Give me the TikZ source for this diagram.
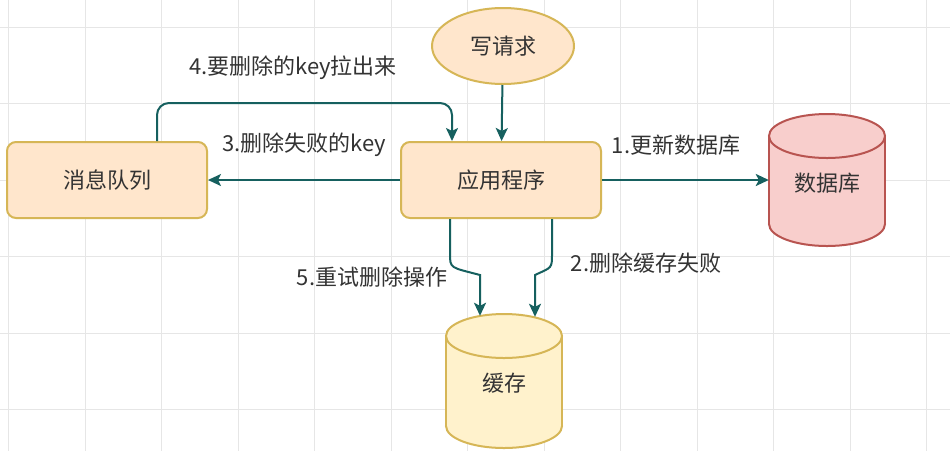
\documentclass[tikz,border=0pt]{standalone}
\usepackage{fontspec}
\setmainfont{Noto Sans CJK SC}
\usetikzlibrary{arrows.meta,calc,shapes.geometric}
\definecolor{arrowc}{HTML}{16605F}
\definecolor{txt}{HTML}{333333}
\definecolor{boxfill}{HTML}{FFE6CC}
\definecolor{boxline}{HTML}{D6B656}
\definecolor{cachefill}{HTML}{FFF2CC}
\definecolor{dbfill}{HTML}{F8CECC}
\definecolor{dbline}{HTML}{B85450}
\definecolor{gridc}{HTML}{E6E6E6}
\tikzset{
  base/.style={font=\fontsize{22}{26}\selectfont, text=txt},
  procbox/.style={base, draw=boxline, fill=boxfill, line width=2pt, rounded corners=9pt, minimum width=200pt, minimum height=76pt, inner sep=0pt},
  ovalnode/.style={base, ellipse, draw=boxline, fill=boxfill, line width=2pt, minimum width=142pt, minimum height=76pt, inner sep=0pt},
  lbl/.style={base, inner sep=0pt},
  arr/.style={draw=arrowc, line width=2pt, -{Stealth[length=13pt,width=12pt,inset=3pt]}},
}
\begin{document}
\begin{tikzpicture}[x=1pt,y=-1pt]
\useasboundingbox (0,0) rectangle (950,451);
\fill[white] (0,0) rectangle (950,451);
% grid
\foreach \gx in {8.5,85,161.5,238,314.5,391,467.5,544,620.5,697,773.5,850,926.5}
  \draw[gridc, line width=1pt] (\gx,0) -- (\gx,451);
\foreach \gy in {27,103.5,180,256.5,333,409.5}
  \draw[gridc, line width=1pt] (0,\gy) -- (950,\gy);

% nodes
\node[ovalnode] (req) at (503,46) {写请求};
\node[procbox] (app) at (501,180) {应用程序};
\node[procbox] (mq) at (107,180) {消息队列};

% database cylinder
\node[inner sep=0pt, minimum width=116pt, minimum height=132pt] (db) at (827,180) {};
\fill[dbfill, draw=dbline, line width=2pt] (827,224) ellipse [x radius=58, y radius=22];
\fill[dbfill] (769,136) rectangle (885,224);
\draw[dbline, line width=2pt] (769,136) -- (769,224) (885,136) -- (885,224);
\fill[dbfill, draw=dbline, line width=2pt] (827,136) ellipse [x radius=58, y radius=22];
\node[base] at (827,183) {数据库};

% cache cylinder
\node[inner sep=0pt, minimum width=116pt, minimum height=134pt] (cache) at (504,381) {};
\fill[cachefill, draw=boxline, line width=2pt] (504,426) ellipse [x radius=58, y radius=22];
\fill[cachefill] (446,336) rectangle (562,426);
\draw[boxline, line width=2pt] (446,336) -- (446,426) (562,336) -- (562,426);
\fill[cachefill, draw=boxline, line width=2pt] (504,336) ellipse [x radius=58, y radius=22];
\node[base] at (504,383) {缓存};

% connectors
\draw[arr] (req) -- (app);
\draw[arr] (app) -- (db.west);
\draw[arr] (app) -- (mq);
\coordinate (c4) at (300,103);
\draw[arr, rounded corners=12pt] ([xshift=50pt]mq.north) |- (c4) -| ([xshift=-49pt]app.north);
\draw[arr] ([xshift=-51pt]app.south) -- ++(0,34) .. controls ++(0,16) and ++(-30,-8) .. ++(30,22) -- ([xshift=-24pt,yshift=-2pt]cache.north);
\draw[arr] ([xshift=51pt]app.south) -- ++(0,34) .. controls ++(0,16) and ++(17,-8) .. ++(-17,22) -- ([xshift=31pt,yshift=-3pt]cache.north);

% labels
\node[lbl] (l4) at (293,68) {4.要删除的key拉出来};
\node[lbl] (l3) at (304,145) {3.删除失败的key};
\node[lbl] (l1) at (676,145) {1.更新数据库};
\node[lbl] (l2) at (646,263) {2.删除缓存失败};
\node[lbl] (l5) at (372,277) {5.重试删除操作};
\end{tikzpicture}
\end{document}
